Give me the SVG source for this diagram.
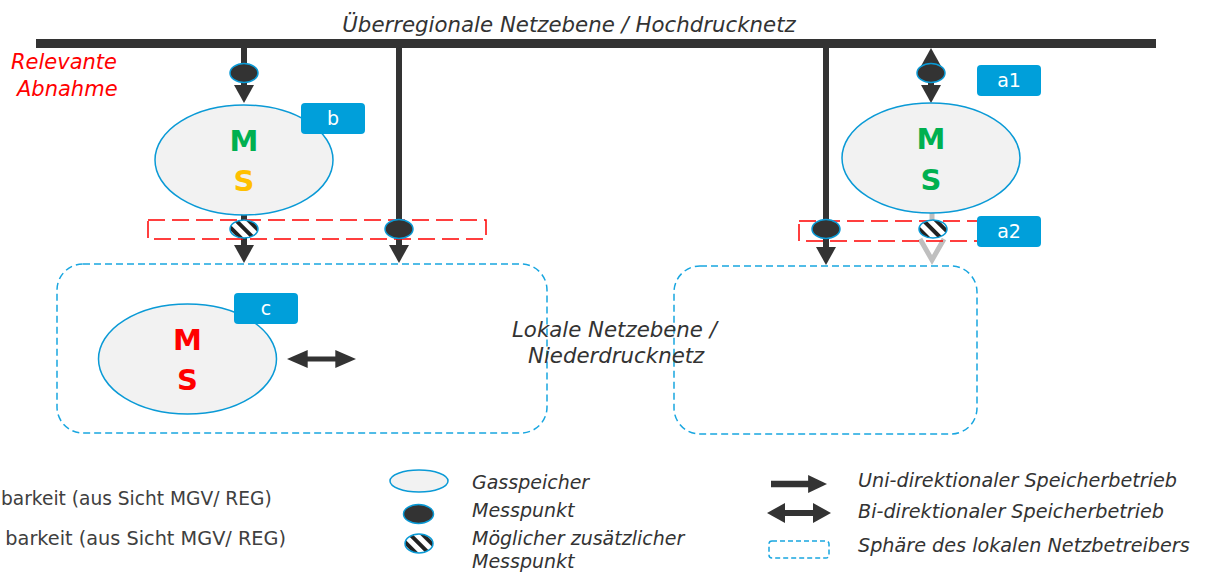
<svg xmlns="http://www.w3.org/2000/svg" width="1206" height="572" viewBox="0 0 1206 572">
  <style>
    .t { font-family: "DejaVu Sans", Verdana, sans-serif; fill: #333333; }
    .it { font-style: italic; }
    .store { fill: #f2f2f2; stroke: #0a9ad6; stroke-width: 1.5; }
    .meter { fill: #333333; stroke: #0a9ad6; stroke-width: 1.5; }
    .meter2 { fill: url(#hatch); stroke: #0a9ad6; stroke-width: 1.5; }
    .shaft { stroke: #333333; stroke-width: 6; fill: none; }
    .head { fill: #333333; }
    .tag { fill: #009fda; }
    .tagtxt { font-family: "DejaVu Sans", Verdana, sans-serif; font-size: 19px; fill: #ffffff; text-anchor: middle; }
    .big { font-family: "DejaVu Sans", Verdana, sans-serif; font-weight: bold; font-size: 29px; text-anchor: middle; }
    .focus { fill: none; stroke: #ff0000; stroke-width: 1.5; stroke-dasharray: 17 7; }
    .sphere { fill: none; stroke: #19a6e0; stroke-width: 1.5; stroke-dasharray: 7 4; }
  </style>
  <defs>
    <pattern id="hatch" patternUnits="userSpaceOnUse" width="9" height="9" patternTransform="rotate(-45)">
      <rect width="9" height="9" fill="#ffffff"/>
      <rect width="4" height="9" fill="#222222"/>
    </pattern>
    <!-- arrowhead pointing down, tip at origin -->
    <path id="hd" d="M-10,-18 L10,-18 L0,0 Z"/>
  </defs>

  <rect width="1206" height="572" fill="#ffffff"/>

  <!-- transmission level -->
  <g id="hochdrucknetz">
    <rect x="36" y="39" width="1120" height="9" fill="#333333"/>
    <text class="t it" x="569" y="32" font-size="21.3" text-anchor="middle">Überregionale Netzebene / Hochdrucknetz</text>
  </g>

  <g id="relevante-abnahme">
    <text class="t it" x="11" y="69" font-size="21" style="fill:#ff0000">Relevante</text>
    <text class="t it" x="17" y="96" font-size="21" style="fill:#ff0000">Abnahme</text>
  </g>

  <!-- local network spheres -->
  <g id="sphere-left">
    <rect class="sphere" x="57" y="264" width="490" height="169" rx="26"/>
  </g>
  <g id="sphere-right">
    <rect class="sphere" x="674" y="266" width="303" height="168" rx="26"/>
  </g>
  <g id="lokale-netzebene">
    <text class="t it" x="512" y="337" font-size="21.3">Lokale Netzebene /</text>
    <text class="t it" x="528" y="363" font-size="21.3">Niederdrucknetz</text>
  </g>

  <!-- connectors -->
  <g id="connectors">
    <!-- storage b feed -->
    <line class="shaft" x1="244" y1="48" x2="244" y2="86"/>
    <use href="#hd" class="head" x="244" y="103"/>
    <line class="shaft" x1="244" y1="214" x2="244" y2="246"/>
    <use href="#hd" class="head" x="244" y="263"/>
    <!-- direct supply left -->
    <line class="shaft" x1="399" y1="48" x2="399" y2="246"/>
    <use href="#hd" class="head" x="399" y="263"/>
    <!-- direct supply right -->
    <line class="shaft" x1="826" y1="48" x2="826" y2="248"/>
    <use href="#hd" class="head" x="826" y="265"/>
    <!-- storage a: bidirectional to transmission level -->
    <line class="shaft" x1="931" y1="60" x2="931" y2="86"/>
    <use href="#hd" class="head" transform="translate(931,48) rotate(180)"/>
    <use href="#hd" class="head" x="931" y="103"/>
    <!-- storage a: optional path to local network -->
    <line x1="932" y1="212" x2="932" y2="224" stroke="#bfbfbf" stroke-width="5"/>
    <polyline points="920,239 932,260 944,239" fill="none" stroke="#bfbfbf" stroke-width="5"/>
    <!-- storage c: bidirectional -->
    <line class="shaft" x1="305" y1="359" x2="338" y2="359" style="stroke-width:5"/>
    <use href="#hd" class="head" transform="translate(287,359) rotate(90) scale(0.9,1.15)"/>
    <use href="#hd" class="head" transform="translate(356,359) rotate(-90) scale(0.9,1.15)"/>
  </g>

  <!-- relevant metering windows -->
  <g id="relevanz-links">
    <rect class="focus" x="148" y="220" width="338" height="19"/>
  </g>
  <g id="relevanz-rechts">
    <rect class="focus" x="799" y="221" width="182" height="20"/>
  </g>

  <!-- meters -->
  <g id="messpunkte">
    <ellipse class="meter" cx="244" cy="73" rx="14" ry="9.5"/>
    <ellipse class="meter2" cx="244" cy="229" rx="14" ry="9"/>
    <ellipse class="meter" cx="399" cy="229" rx="14" ry="9.5"/>
    <ellipse class="meter" cx="826" cy="229" rx="14" ry="9.5"/>
    <ellipse class="meter" cx="931" cy="73" rx="14" ry="9.5"/>
    <ellipse class="meter2" cx="933" cy="229" rx="14" ry="9"/>
  </g>

  <!-- storage b -->
  <g id="speicher-b">
    <ellipse class="store" cx="244" cy="160" rx="89" ry="55"/>
    <text class="big" x="244" y="151" fill="#00b050">M</text>
    <text class="big" x="244" y="191" fill="#ffc000">S</text>
    <rect class="tag" x="301" y="103" width="64" height="31" rx="4"/>
    <text class="tagtxt" x="333" y="125">b</text>
  </g>

  <!-- storage a -->
  <g id="speicher-a">
    <ellipse class="store" cx="931" cy="158" rx="89" ry="55"/>
    <text class="big" x="931" y="149" fill="#00b050">M</text>
    <text class="big" x="931" y="190" fill="#00b050">S</text>
    <rect class="tag" x="977" y="65" width="64" height="31" rx="4"/>
    <text class="tagtxt" x="1009" y="87">a1</text>
    <rect class="tag" x="977" y="216" width="64" height="31" rx="4"/>
    <text class="tagtxt" x="1009" y="238">a2</text>
  </g>

  <!-- storage c -->
  <g id="speicher-c">
    <ellipse class="store" cx="187.5" cy="359" rx="89" ry="55"/>
    <text class="big" x="187.5" y="350" fill="#ff0000">M</text>
    <text class="big" x="187.5" y="390" fill="#ff0000">S</text>
    <rect class="tag" x="234" y="293" width="64" height="31" rx="4"/>
    <text class="tagtxt" x="266" y="315">c</text>
  </g>

  <!-- legend -->
  <g id="legende-links">
    <text class="t" x="1" y="505" font-size="18.6" style="fill:#404040">barkeit (aus Sicht MGV/ REG)</text>
    <text class="t" x="286" y="545" font-size="19.3" text-anchor="end" style="fill:#404040">barkeit (aus Sicht MGV/ REG)</text>
  </g>
  <g id="legende-mitte">
    <ellipse class="store" cx="419" cy="481" rx="29" ry="11"/>
    <ellipse class="meter" cx="418.5" cy="514" rx="15" ry="9.5"/>
    <ellipse class="meter2" cx="419" cy="543.5" rx="14" ry="9.5"/>
    <text class="t it" x="472" y="489" font-size="19">Gasspeicher</text>
    <text class="t it" x="472" y="517" font-size="19">Messpunkt</text>
    <text class="t it" x="472" y="545" font-size="19">Möglicher zusätzlicher</text>
    <text class="t it" x="472" y="568" font-size="19">Messpunkt</text>
  </g>
  <g id="legende-rechts">
    <line class="shaft" x1="771" y1="484" x2="810" y2="484" style="stroke-width:6.5"/>
    <use href="#hd" class="head" transform="translate(827,484) rotate(-90) scale(0.9,1.05)"/>
    <line class="shaft" x1="783" y1="513" x2="815" y2="513" style="stroke-width:6"/>
    <use href="#hd" class="head" transform="translate(767,513) rotate(90)"/>
    <use href="#hd" class="head" transform="translate(831,513) rotate(-90)"/>
    <rect x="769" y="541" width="60" height="17" rx="3" fill="none" stroke="#19a6e0" stroke-width="1.5" stroke-dasharray="5 3"/>
    <text class="t it" x="858" y="487" font-size="19.2">Uni-direktionaler Speicherbetrieb</text>
    <text class="t it" x="858" y="518" font-size="19.2">Bi-direktionaler Speicherbetrieb</text>
    <text class="t it" x="858" y="552" font-size="19.2">Sphäre des lokalen Netzbetreibers</text>
  </g>
</svg>
